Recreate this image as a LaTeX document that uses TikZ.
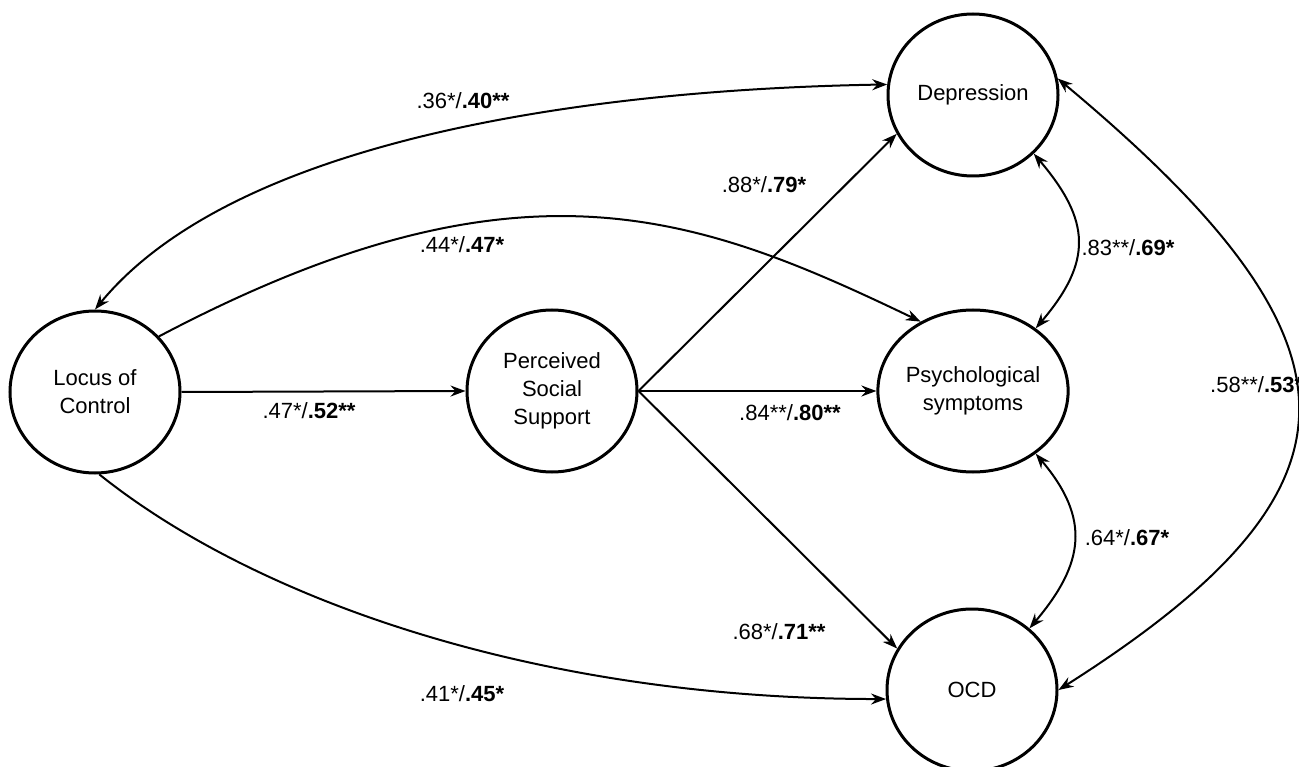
\documentclass[tikz,border=0pt]{standalone}
\usepackage{fontspec}
\setmainfont{Liberation Sans}
\usetikzlibrary{arrows.meta,shapes.geometric}
\begin{document}
\begin{tikzpicture}[x=1pt,y=-1pt,
  latent/.style={ellipse, draw, line width=3pt, minimum width=170pt, minimum height=162pt, inner sep=0pt, align=center, font=\fontsize{22}{28}\selectfont},
  tip/.tip={Stealth[length=15pt,width=11pt,inset=5pt]},
  arrowline/.style={line width=2pt, -tip},
  biline/.style={line width=2pt, tip-tip},
  coef/.style={font=\fontsize{22}{27}\selectfont, inner sep=0pt}]
\useasboundingbox (0,0) rectangle (1299,767);

\node[latent] (loc) at (95,392) {Locus of\\Control};
\node[latent] (pss) at (552,391) {Perceived\\Social\\Support};
\node[latent] (dep) at (973,95) {Depression};
\node[latent] (psy) at (973,391) {Psychological\\symptoms};
\node[latent] (ocd) at (972,690) {OCD};

\draw[arrowline] (loc.east) -- (pss.west);
\draw[arrowline] (pss.east) -- (dep.207);
\draw[arrowline] (pss.east) -- (psy.west);
\draw[arrowline] (pss.east) -- (ocd.151);

\draw[biline] (loc.north) .. controls +(140,-170) and +(-300,5) .. (dep.173);
\draw[arrowline] (loc.41) .. controls +(360,-190) and +(-225,-108) .. (psy.127);
\draw[arrowline] (loc.-87) .. controls +(156,125) and +(-350,0) .. (ocd.186);

\draw[biline] (dep.-44) .. controls +(57,67) and +(57,-67) .. (psy.45);
\draw[biline] (psy.-45) .. controls +(55,65) and +(55,-65) .. (ocd.47);
\draw[biline] (dep.11) .. controls +(320,267) and +(318,-202) .. (ocd.east);

\node[coef] (c1) at (463,101) {.36*/\textbf{.40**}};
\node[coef] (c2) at (462,245) {.44*/\textbf{.47*}};
\node[coef] (c3) at (309,411) {.47*/\textbf{.52**}};
\node[coef] (c4) at (764,185) {.88*/\textbf{.79*}};
\node[coef] (c5) at (790,413) {.84**/\textbf{.80**}};
\node[coef] (c6) at (779,632) {.68*/\textbf{.71**}};
\node[coef] (c7) at (462,694) {.41*/\textbf{.45*}};
\node[coef] (c8) at (1128,248) {.83**/\textbf{.69*}};
\node[coef] (c9) at (1127,538) {.64*/\textbf{.67*}};
\node[coef, anchor=west] (c10) at (1210,385) {.58**/\textbf{.53*}};
\end{tikzpicture}
\end{document}
